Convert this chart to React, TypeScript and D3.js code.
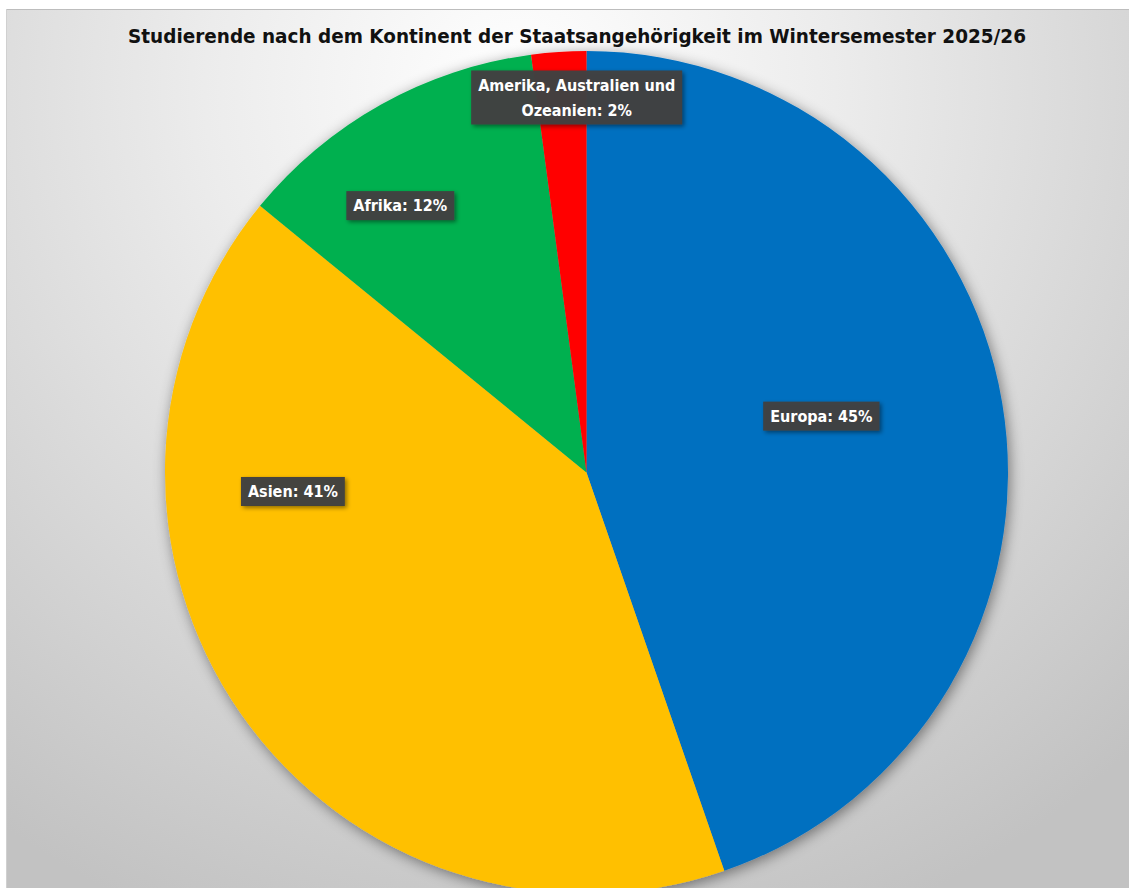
import React, { useEffect, useLayoutEffect, useRef, useState } from "react";
import * as d3 from "d3";

const categories = ["Europa", "Asien", "Afrika", "Amerika, Australien und Ozeanien"];
const values = [44.7, 41.2, 12.0, 2.1];
const colors = ["#0070C0", "#FFC000", "#00B050", "#FF0000"];
const labelLines = [["Europa: 45%"], ["Asien: 41%"], ["Afrika: 12%"], ["Amerika, Australien und", "Ozeanien: 2%"]];
// label placement (polar, relative to pie): angle in degrees clockwise from top, radius as fraction
const labelAngle = [76.5, 266.3, 325.1, 358.5];
const labelRadius = [0.573, 0.698, 0.772, 0.89];
const title = "Studierende nach dem Kontinent der Staatsangehörigkeit im Wintersemester 2025/26";

const W = 1129;
const H = 888;
const FONT = "'DejaVu Sans Condensed', 'DejaVu Sans', sans-serif";

function Label({ x, y, lines }: { x: number; y: number; lines: string[] }) {
  const ref = useRef<SVGGElement>(null);
  const [w, setW] = useState(100);
  useLayoutEffect(() => {
    if (!ref.current) return;
    const texts = ref.current.querySelectorAll("text");
    let m = 0;
    texts.forEach((t) => (m = Math.max(m, (t as SVGTextElement).getComputedTextLength())));
    setW(m);
  }, []);
  const lh = 25;
  const boxW = w + 14;
  const boxH = lines.length * lh + 4;
  return (
    <g ref={ref} transform={`translate(${x},${y})`}>
      <rect x={-boxW / 2} y={-boxH / 2} width={boxW} height={boxH} fill="#404040" fillOpacity={0.97} filter="url(#lblShadow)" />
      {lines.map((l, i) => (
        <text
          key={i}
          x={0}
          y={(i - (lines.length - 1) / 2) * lh}
          dy="0.36em"
          textAnchor="middle"
          fill="#ffffff"
          fontFamily={FONT}
          fontWeight="bold"
          fontSize={16}
        >
          {l}
        </text>
      ))}
    </g>
  );
}

export default function App() {
  useEffect(() => {
    document.body.style.margin = "0";
  }, []);

  const cx = 586.5;
  const cy = 472.5;
  const R = 421.5;

  const pie = d3.pie<number>().sort(null).value((d) => d).startAngle(0).endAngle(2 * Math.PI);
  const arcs = pie(values);
  const arc = d3.arc<d3.PieArcDatum<number>>().innerRadius(0).outerRadius(R);

  return (
    <svg width={W} height={H} style={{ display: "block" }}>
      <defs>
        <radialGradient id="bg" gradientUnits="userSpaceOnUse" cx={520} cy={90} r={900}>
          <stop offset="0" stopColor="#ffffff" />
          <stop offset="0.35" stopColor="#ececec" />
          <stop offset="1" stopColor="#c2c2c2" />
        </radialGradient>
        <filter id="pieShadow" x="-20%" y="-20%" width="140%" height="140%">
          <feDropShadow dx="2" dy="3" stdDeviation="7" floodColor="#000" floodOpacity="0.45" />
        </filter>
        <filter id="lblShadow" x="-20%" y="-40%" width="140%" height="180%">
          <feDropShadow dx="2" dy="2" stdDeviation="2" floodColor="#000" floodOpacity="0.45" />
        </filter>
      </defs>
      <rect x={6} y={9} width={W - 6} height={H - 9} fill="url(#bg)" />
      <line x1={6} x2={W} y1={9.5} y2={9.5} stroke="#bdbdbd" strokeWidth={1} />
      <line x1={6.5} x2={6.5} y1={9} y2={H} stroke="#d0d0d0" strokeWidth={1} />
      <g transform={`translate(${cx},${cy})`} filter="url(#pieShadow)">
        {arcs.map((a, i) => (
          <path key={categories[i]} d={arc(a) || ""} fill={colors[i]} />
        ))}
      </g>
      <text
        x={577}
        y={36}
        dy="0.36em"
        textAnchor="middle"
        fontFamily={FONT}
        fontWeight="bold"
        fontSize={19.5}
        fill="#111"
        textLength={898}
        lengthAdjust="spacingAndGlyphs"
      >
        {title}
      </text>
      {arcs.map((a, i) => {
        const ang = (labelAngle[i] * Math.PI) / 180;
        const r = labelRadius[i] * R;
        return <Label key={categories[i]} x={cx + r * Math.sin(ang)} y={cy - r * Math.cos(ang)} lines={labelLines[i]} />;
      })}
    </svg>
  );
}
